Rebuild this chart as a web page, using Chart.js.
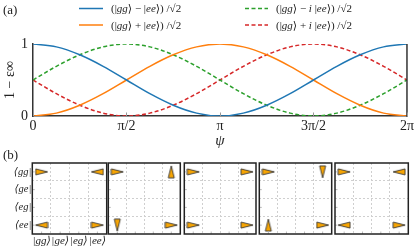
<!DOCTYPE html>
<html><head><meta charset="utf-8">
<script src="https://cdn.jsdelivr.net/npm/chart.js@4.4.1/dist/chart.umd.min.js"></script>
<style>
html,body{margin:0;padding:0;background:#fff;width:416px;height:248px;overflow:hidden;position:relative}
canvas{position:absolute;left:0}
</style></head><body>
<canvas id="ca" width="416" height="150" style="top:0px"></canvas>
<canvas id="cb0" width="416" height="98" style="top:150px"></canvas>
<canvas id="cb1" width="416" height="98" style="top:150px"></canvas>
<canvas id="cb2" width="416" height="98" style="top:150px"></canvas>
<canvas id="cb3" width="416" height="98" style="top:150px"></canvas>
<canvas id="cb4" width="416" height="98" style="top:150px"></canvas>
<script>
// ---------- data (panel a) ----------
const psi = [0,0.125,0.25,0.375,0.5,0.625,0.75,0.875,1,1.125,1.25,1.375,1.5,1.625,1.75,1.875,2]; // in units of π
const blueVals   = [1,0.96,0.85,0.69,0.5,0.31,0.15,0.04,0,0.04,0.15,0.31,0.5,0.69,0.85,0.96,1];
const orangeVals = [0,0.04,0.15,0.31,0.5,0.69,0.85,0.96,1,0.96,0.85,0.69,0.5,0.31,0.15,0.04,0];
const greenVals  = [0.5,0.69,0.85,0.96,1,0.96,0.85,0.69,0.5,0.31,0.15,0.04,0,0.04,0.15,0.31,0.5];
const redVals    = [0.5,0.31,0.15,0.04,0,0.04,0.15,0.31,0.5,0.69,0.85,0.96,1,0.96,0.85,0.69,0.5];
const seriesLabels = ['(|gg⟩ − |ee⟩) /√2','(|gg⟩ + |ee⟩) /√2','(|gg⟩ − i |ee⟩) /√2','(|gg⟩ + i |ee⟩) /√2'];
const xTickValues = [0,0.5,1,1.5,2];
const xTickLabels = ['0','π/2','π','3π/2','2π'];
const yTickValues = [0,1];
const yTickLabels = ['0','1'];
// ---------- data (panel b) ----------
const braLabels = ['⟨gg|','⟨ge|','⟨eg|','⟨ee|'];
const ketLabels = ['|gg⟩','|ge⟩','|eg⟩','|ee⟩'];
const markerRows = [0,0,3,3];
const markerCols = [0,3,0,3];
const panelPhases = [[0,180,180,0],[0,90,-90,0],[0,0,0,0],[0,-90,90,0],[0,180,180,0]];

const SERIF = '"Liberation Serif", "DejaVu Serif", serif';
const TXT = '#222';

function mathText(ctx, str, x, y, size, align){
  const parts=[]; let cur=null;
  for (const ch of str){
    const it=/[a-zA-Zψε]/.test(ch);
    if(!cur||cur.it!==it){cur={it,t:''};parts.push(cur);}
    cur.t+=ch;
  }
  const fontOf=it=>(it?'italic ':'')+size+'px '+SERIF;
  let w=0;
  parts.forEach(p=>{ctx.font=fontOf(p.it); p.w=ctx.measureText(p.t).width; w+=p.w;});
  let cx = align==='right'? x-w : align==='center'? x-w/2 : x;
  ctx.textBaseline='middle'; ctx.textAlign='left'; ctx.fillStyle=TXT;
  parts.forEach(p=>{ctx.font=fontOf(p.it); ctx.fillText(p.t,cx,y); cx+=p.w;});
}
function plainText(ctx, str, x, y, size){
  ctx.font=size+'px '+SERIF; ctx.fillStyle=TXT;
  ctx.textBaseline='middle'; ctx.textAlign='left';
  ctx.fillText(str,x,y);
}

// ---------- panel a ----------
const colors = ['#1f77b4','#ff7f0e','#2ca02c','#d62728'];
const seriesVals = [blueVals, orangeVals, greenVals, redVals];
const dashes = [[],[],[4,2.5],[4,2.5]];

const legendPlugin = {
  id:'legendA',
  afterDraw(chart){
    const ctx=chart.ctx;
    ctx.save();
    plainText(ctx,'(a)',3,11,13);
    const cols=[{x0:79,x1:103},{x0:245,x1:268}];
    const rows=[8.5,25];
    const order=[[0,0],[1,0],[0,1],[1,1]]; // [row, col] per dataset
    chart.data.datasets.forEach((ds,i)=>{
      const [r,c]=order[i];
      const y=rows[r], col=cols[c];
      ctx.strokeStyle=ds.borderColor; ctx.lineWidth=1.5;
      ctx.setLineDash(ds.borderDash||[]);
      ctx.beginPath(); ctx.moveTo(col.x0,y); ctx.lineTo(col.x1,y); ctx.stroke();
      ctx.setLineDash([]);
      mathText(ctx,ds.label,col.x1+8,y+1,11,'left');
    });
    ctx.restore();
  }
};
const spinePlugin = {
  id:'spineA',
  afterDraw(chart){
    const {ctx, chartArea:a, scales:{x}}=chart;
    ctx.save();
    ctx.strokeStyle='#333'; ctx.lineWidth=1.5;
    ctx.beginPath(); ctx.moveTo(a.right,a.top); ctx.lineTo(a.right,a.bottom+0.75); ctx.stroke();
    ctx.strokeStyle='#999'; ctx.lineWidth=1;
    xTickValues.forEach(v=>{
      const px=Math.round(x.getPixelForValue(v))+0.5;
      ctx.beginPath(); ctx.moveTo(px,a.bottom); ctx.lineTo(px,a.bottom-3.5); ctx.stroke();
    });
    ctx.restore();
  }
};

new Chart(document.getElementById('ca'),{
  type:'line',
  data:{datasets: seriesVals.map((vals,i)=>({
    label: seriesLabels[i],
    data: psi.map((p,k)=>({x:p,y:vals[k]})),
    borderColor: colors[i],
    borderDash: dashes[i],
    borderWidth: 1.5,
    pointRadius: 0,
    fill:false,
    cubicInterpolationMode:'monotone'
  }))},
  options:{
    responsive:false, animation:false, devicePixelRatio:1,
    layout:{padding:{left:0,top:44,right:8,bottom:0}},
    plugins:{legend:{display:false},tooltip:{enabled:false}},
    scales:{
      x:{type:'linear',min:0,max:2,
        afterBuildTicks:s=>{s.ticks=xTickValues.map(v=>({value:v}));},
        afterFit:s=>{s.height=34;},
        ticks:{callback:(v,i)=>xTickLabels[i],font:{family:SERIF,size:14},color:TXT,padding:2,maxRotation:0,autoSkip:false},
        grid:{display:false,drawTicks:false},
        border:{color:'#333',width:1.5},
        title:{display:true,text:'ψ',font:{family:SERIF,size:15,style:'italic'},color:TXT,padding:{top:0,bottom:0}}
      },
      y:{type:'linear',min:0,max:1,
        afterBuildTicks:s=>{s.ticks=yTickValues.map(v=>({value:v}));},
        afterFit:s=>{s.width=33;},
        ticks:{callback:(v,i)=>yTickLabels[i],font:{family:SERIF,size:14},color:TXT,padding:5},
        grid:{display:false,drawTicks:false},
        border:{color:'#333',width:1.5},
        title:{display:true,text:'1 − ε∞',font:{family:SERIF,size:14},color:TXT,padding:{top:2,bottom:0}}
      }
    }
  },
  plugins:[legendPlugin, spinePlugin]
});

// ---------- panel b ----------
const tri = document.createElement('canvas');
tri.width=14; tri.height=14;
(function(){
  const c=tri.getContext('2d');
  c.beginPath(); c.moveTo(1,4); c.lineTo(13,7); c.lineTo(1,10); c.closePath();
  c.fillStyle='#f9a602'; c.fill();
  c.strokeStyle='#333'; c.lineWidth=0.9; c.lineJoin='miter'; c.stroke();
})();

const panelL=[32.3,108.3,184.3,259.3,335];
const panelR=[106.7,180.3,256,331.7,408.3];
const gridVals=[-0.5,0,0.5,1,1.5,2,2.5,3,3.5];
const innerLines=[0.5,1.5,2.5];

const boxPlugin = {
  id:'boxB',
  afterDraw(chart){
    const {ctx, chartArea:a, scales:{x,y}}=chart;
    ctx.save();
    ctx.strokeStyle='#bbb'; ctx.lineWidth=1;
    [0,1,2,3].forEach(v=>{
      const px=x.getPixelForValue(v), py=y.getPixelForValue(v);
      ctx.beginPath(); ctx.moveTo(px,a.bottom); ctx.lineTo(px,a.bottom-2.5); ctx.stroke();
      ctx.beginPath(); ctx.moveTo(a.left,py); ctx.lineTo(a.left+2.5,py); ctx.stroke();
    });
    ctx.strokeStyle='#222'; ctx.lineWidth=1.5;
    ctx.strokeRect(a.left,a.top,a.right-a.left,a.bottom-a.top);
    if(chart.options.firstPanel){ plainText(ctx,'(b)',3,6,13); }
    ctx.restore();
  }
};

panelPhases.forEach((ph,p)=>{
  const first = p===0;
  new Chart(document.getElementById('cb'+p),{
    type:'scatter',
    data:{datasets:[{
      data: markerRows.map((r,i)=>({x:markerCols[i],y:r})),
      pointStyle: tri,
      pointRotation: ph.map(a=>-a),
      pointRadius:6, pointHoverRadius:6
    }]},
    options:{
      firstPanel:first,
      responsive:false, animation:false, devicePixelRatio:1,
      layout:{padding:{left:first?0:panelL[p], right:416-panelR[p], top:13, bottom:first?0:14}},
      plugins:{legend:{display:false},tooltip:{enabled:false}},
      scales:{
        x:{type:'linear',min:-0.5,max:3.5,
          afterBuildTicks:s=>{s.ticks=gridVals.map(v=>({value:v}));},
          afterFit:s=>{s.height=first?14:0;},
          ticks:{display:first,callback:v=>Number.isInteger(v)?ketLabels[v]:'',font:{family:SERIF,size:11,style:'italic'},color:TXT,padding:1,maxRotation:0,autoSkip:false},
          grid:{drawTicks:false,color:c=>(c.tick&&innerLines.includes(c.tick.value))?'#cfcfcf':'rgba(0,0,0,0)',lineWidth:1},
          border:{display:false,dash:[2,2]}
        },
        y:{type:'linear',min:-0.5,max:3.5,reverse:true,
          afterBuildTicks:s=>{s.ticks=gridVals.map(v=>({value:v}));},
          afterFit:s=>{s.width=first?panelL[0]:0;},
          ticks:{display:first,callback:v=>Number.isInteger(v)?braLabels[v]:'',font:{family:SERIF,size:10.5,style:'italic'},color:TXT,padding:1,autoSkip:false},
          grid:{drawTicks:false,color:c=>(c.tick&&innerLines.includes(c.tick.value))?'#cfcfcf':'rgba(0,0,0,0)',lineWidth:1},
          border:{display:false,dash:[2,2]}
        }
      }
    },
    plugins:[boxPlugin]
  });
});
</script>
</body></html>
